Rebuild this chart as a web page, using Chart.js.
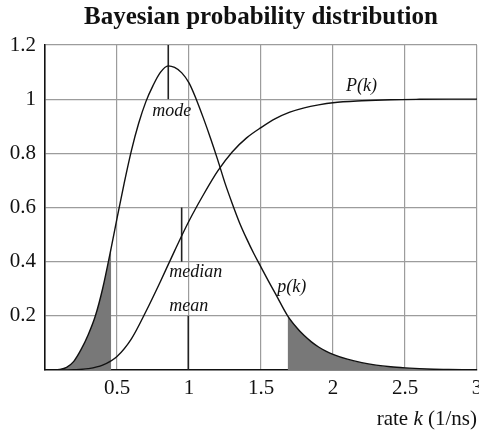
<!DOCTYPE html>
<html lang="en">
<head>
<meta charset="UTF-8">
<title>Bayesian probability distribution</title>
<script src="https://cdn.jsdelivr.net/npm/chart.js@4.4.1/dist/chart.umd.min.js"></script>
<style>
    html, body { margin: 0; padding: 0; background: #fff; }
    #chartBox { width: 479px; height: 431px; position: relative; }
</style>
</head>
<body>
<div id="chartBox"><canvas id="bayesChart"></canvas></div>
<script>
// Densité p(k)
const densityRates = [0, 0.05, 0.1, 0.15, 0.2, 0.25, 0.3, 0.35, 0.4, 0.46, 0.5, 0.55, 0.6, 0.65, 0.7, 0.75, 0.8, 0.856,
    0.9, 0.95, 1.0, 1.05, 1.1, 1.15, 1.2, 1.25, 1.3, 1.35, 1.4, 1.45, 1.5, 1.55, 1.6, 1.685, 1.75, 1.8, 1.85, 1.9, 1.95,
    2.0, 2.1, 2.2, 2.3, 2.4, 2.5, 2.6, 2.7, 2.8, 3.0];
const densityValues = [0, 0, 0.002, 0.01, 0.032, 0.075, 0.13, 0.2, 0.3, 0.452, 0.56, 0.69, 0.81, 0.91, 0.99, 1.05, 1.098, 1.123,
    1.117, 1.097, 1.06, 1.0, 0.93, 0.855, 0.775, 0.69, 0.615, 0.545, 0.485, 0.43, 0.38, 0.33, 0.282, 0.2, 0.155, 0.127, 0.104, 0.085, 0.07,
    0.058, 0.04, 0.027, 0.018, 0.012, 0.008, 0.005, 0.003, 0.002, 0];

// Fonction de répartition P(k)
const cumulRates = [0, 0.1, 0.2, 0.3, 0.4, 0.5, 0.6, 0.7, 0.8, 0.9, 1.0, 1.1, 1.2, 1.3, 1.4, 1.5, 1.6, 1.7, 1.8, 1.9,
    2.0, 2.2, 2.4, 2.6, 2.8, 3.0];
const cumulValues = [0, 0, 0.001, 0.005, 0.018, 0.05, 0.115, 0.215, 0.325, 0.44, 0.55, 0.647, 0.735, 0.805, 0.857, 0.895, 0.928,
    0.952, 0.968, 0.979, 0.987, 0.994, 0.998, 0.9995, 1, 1];

// Bornes des zones grisées (queues)
const leftTailEnd = 0.46;
const rightTailStart = 1.685;

// Repères mode / médiane / moyenne
const markerRates = [0.856, 0.949, 0.995];
const markerFrom = [1, 0.4, 0];
const markerTo = [1.2, 0.6, 0.2];

// Graduations
const xTicks = [0.5, 1, 1.5, 2, 2.5, 3];
const yTicks = [0.2, 0.4, 0.6, 0.8, 1, 1.2];

const serif = "'Liberation Serif', 'Times New Roman', serif";

/* --- 1. Construction des jeux de données --- */
const densityPoints = densityRates.map((k, i) => ({ x: k, y: densityValues[i] }));
const cumulPoints = cumulRates.map((k, i) => ({ x: k, y: cumulValues[i] }));
const leftTail = densityPoints.filter(p => p.x <= leftTailEnd);
const rightTail = densityPoints.filter(p => p.x >= rightTailStart);

const curveStyle = {
    borderColor: "#111",
    borderWidth: 1.4,
    pointRadius: 0,
    fill: false,
    cubicInterpolationMode: "monotone"
};

const tailStyle = {
    borderWidth: 0,
    pointRadius: 0,
    backgroundColor: "#787878",
    fill: "origin",
    cubicInterpolationMode: "monotone"
};

const markerSets = markerRates.map((k, i) => ({
    data: [{ x: k, y: markerFrom[i] }, { x: k, y: markerTo[i] }],
    borderColor: "#222",
    borderWidth: 1.6,
    pointRadius: 0,
    fill: false,
    order: 1
}));

/* --- 2. Textes posés sur le graphique --- */
const curveLabels = [
    { text: "mode", x: 0.88, y: 0.957, align: "center" },
    { text: "median", x: 0.863, y: 0.36, align: "left" },
    { text: "mean", x: 0.863, y: 0.236, align: "left" },
    { text: "p(k)", x: 1.613, y: 0.305, align: "left" },
    { text: "P(k)", x: 2.09, y: 1.046, align: "left" }
];

const textPlugin = {
    id: "textPlugin",
    afterDraw(chart) {
        const { ctx, chartArea, scales } = chart;
        ctx.save();
        ctx.fillStyle = "#111";

        // titre centré sur la zone de tracé
        ctx.font = "bold 25px " + serif;
        ctx.textAlign = "center";
        ctx.textBaseline = "alphabetic";
        ctx.fillText("Bayesian probability distribution", (chartArea.left + chartArea.right) / 2, 24);

        // étiquettes des courbes
        ctx.font = "italic 18px " + serif;
        ctx.textBaseline = "middle";
        curveLabels.forEach(l => {
            ctx.textAlign = l.align;
            ctx.fillText(l.text, scales.x.getPixelForValue(l.x), scales.y.getPixelForValue(l.y));
        });

        // titre de l'axe x : "rate k (1/ns)" avec k en italique
        const parts = [
            { t: "rate ", f: "21px " + serif },
            { t: "k", f: "italic 21px " + serif },
            { t: " (1/ns)", f: "21px " + serif }
        ];
        let total = 0;
        parts.forEach(p => { ctx.font = p.f; p.w = ctx.measureText(p.t).width; total += p.w; });
        let x = chartArea.right - total;
        ctx.textAlign = "left";
        ctx.textBaseline = "alphabetic";
        parts.forEach(p => { ctx.font = p.f; ctx.fillText(p.t, x, 425); x += p.w; });

        ctx.restore();
    }
};

/* --- 3. Graphique --- */
new Chart(document.getElementById("bayesChart"), {
    type: "line",
    data: {
        datasets: [
            { ...curveStyle, data: densityPoints, order: 0 },
            { ...curveStyle, data: cumulPoints, order: 0 },
            ...markerSets,
            { ...tailStyle, data: leftTail, order: 5 },
            { ...tailStyle, data: rightTail, order: 5 }
        ]
    },
    options: {
        responsive: true,
        maintainAspectRatio: false,
        animation: false,
        layout: { padding: { top: 45, right: 2, left: 0, bottom: 0 } },
        plugins: {
            legend: { display: false },
            title: { display: false },
            tooltip: { enabled: false }
        },
        scales: {
            x: {
                type: "linear",
                min: 0,
                max: 3,
                afterBuildTicks: scale => { scale.ticks = xTicks.map(v => ({ value: v })); },
                afterFit: scale => {
                    scale.height = 61;
                    scale.paddingLeft = 0;
                    scale.paddingRight = 0;
                },
                ticks: {
                    color: "#111",
                    padding: 6,
                    maxRotation: 0,
                    font: { family: serif, size: 21 },
                    callback: v => String(v)
                },
                grid: { color: "#9c9c9c", lineWidth: 1.2, drawTicks: false },
                border: { color: "#111", width: 1.6 }
            },
            y: {
                min: 0,
                max: 1.2,
                afterBuildTicks: scale => { scale.ticks = yTicks.map(v => ({ value: v })); },
                afterFit: scale => { scale.width = 45; },
                ticks: {
                    color: "#111",
                    padding: 9,
                    font: { family: serif, size: 21 },
                    callback: v => String(v)
                },
                grid: { color: "#9c9c9c", lineWidth: 1.2, drawTicks: false },
                border: { color: "#111", width: 1.6 }
            }
        }
    },
    plugins: [textPlugin]
});
</script>
</body>
</html>
